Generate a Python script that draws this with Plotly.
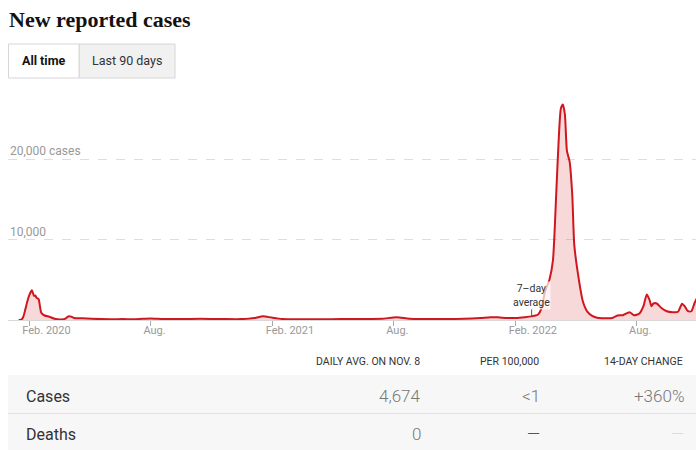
import plotly.graph_objects as go

# ---- data ----
dates = [
    "2020-01-16", "2020-01-20", "2020-01-23", "2020-01-26", "2020-01-29", "2020-02-01",
    "2020-02-05", "2020-02-08", "2020-02-10", "2020-02-12", "2020-02-15", "2020-02-17",
    "2020-02-19", "2020-02-24", "2020-03-02", "2020-03-10", "2020-03-20", "2020-03-27",
    "2020-03-31", "2020-04-04", "2020-04-08", "2020-04-20", "2020-05-05", "2020-06-01",
    "2020-06-20", "2020-07-10", "2020-08-01", "2020-08-20", "2020-09-15", "2020-10-15",
    "2020-11-15", "2020-12-15", "2021-01-05", "2021-01-17", "2021-01-30", "2021-02-15",
    "2021-03-15", "2021-04-15", "2021-05-15", "2021-06-15", "2021-07-15", "2021-08-06",
    "2021-08-25", "2021-09-20", "2021-10-20", "2021-11-15", "2021-12-10", "2021-12-25",
    "2022-01-05", "2022-01-20", "2022-02-01", "2022-02-15", "2022-02-25", "2022-03-03",
    "2022-03-07", "2022-03-12", "2022-03-17", "2022-03-24", "2022-03-29", "2022-04-03",
    "2022-04-07", "2022-04-10", "2022-04-13", "2022-04-16", "2022-04-19", "2022-04-23",
    "2022-04-27", "2022-04-30", "2022-05-05", "2022-05-13", "2022-05-20", "2022-05-27",
    "2022-06-02", "2022-06-11", "2022-06-26", "2022-07-04", "2022-07-12", "2022-07-22",
    "2022-07-29", "2022-08-06", "2022-08-12", "2022-08-17", "2022-08-21", "2022-08-24",
    "2022-08-27", "2022-09-01", "2022-09-08", "2022-09-16", "2022-09-25", "2022-10-03",
    "2022-10-09", "2022-10-13", "2022-10-18", "2022-10-23", "2022-10-28", "2022-11-02",
    "2022-11-08",
]
cases = [
    0, 40, 400, 1300, 2300, 3100,
    3700, 3000, 3050, 2750, 2600, 1700,
    900, 560, 400, 150, 70, 200,
    470, 420, 260, 220, 150, 90,
    110, 100, 200, 130, 110, 140,
    120, 110, 250, 470, 300, 120,
    90, 100, 110, 130, 150, 330,
    160, 130, 120, 150, 250, 350,
    330, 250, 250, 350, 450, 550,
    700, 1500, 3500, 5100, 7400, 15800,
    23000, 26300, 26770, 25500, 21000, 19700,
    15600, 9400, 6060, 2300, 1000, 500,
    300, 220, 250, 560, 600, 970,
    600, 800, 1710, 3170, 2540, 1710,
    2050, 2050, 1500, 1090, 970, 1020,
    2010, 1710, 1090, 1090, 2140, 3000,
    4674,
]

tick_dates = ["2020-02-01", "2020-08-01", "2021-02-01", "2021-08-01", "2022-02-01", "2022-08-01"]
tick_labels = ["Feb. 2020", "Aug.", "Feb. 2021", "Aug.", "Feb. 2022", "Aug."]
grid_values = [10000, 20000]
grid_labels = ["10,000", "20,000 cases"]

table_headers = ["DAILY AVG. ON NOV. 8", "PER 100,000", "14-DAY CHANGE"]
row_names = ["Cases", "Deaths"]
cases_row = ["4,674", "<1", "+360%"]
deaths_row = ["0", "—", "—"]

# ---- layout helpers (screen pixel -> paper) ----
W, H = 696, 450
ML, MR, MT, MB = 8, 0, 95, 130
PW, PH = W - ML - MR, H - MT - MB


def PX(px):
    return (px - ML) / PW


def PY(py):
    return (H - MB - py) / PH


RED = "#d0161f"
font_ui = "Roboto, Liberation Sans, sans-serif"

fig = go.Figure()
fig.add_trace(go.Scatter(
    x=dates, y=cases, mode="lines",
    line=dict(color=RED, width=2, shape="spline", smoothing=0.6),
    fill="tozeroy", fillcolor="rgba(214,30,30,0.17)",
    hoverinfo="skip", showlegend=False,
))

shapes = []
annotations = []

# title
annotations.append(dict(text="<b>New reported cases</b>", x=PX(7), y=PY(19), xref="paper", yref="paper",
                        xanchor="left", yanchor="middle", showarrow=False,
                        font=dict(family="Liberation Serif, DejaVu Serif, serif", size=22, color="#121212")))

# toggle buttons
shapes.append(dict(type="rect", xref="paper", yref="paper", x0=PX(79), x1=PX(175), y0=PY(78), y1=PY(44),
                   fillcolor="#f1f1f1", line=dict(color="#d6d6d6", width=1), layer="above"))
shapes.append(dict(type="rect", xref="paper", yref="paper", x0=PX(8.5), x1=PX(79), y0=PY(78), y1=PY(44),
                   fillcolor="#ffffff", line=dict(color="#d6d6d6", width=1), layer="above"))
annotations.append(dict(text="<b>All time</b>", x=PX(43.5), y=PY(61), xref="paper", yref="paper",
                        xanchor="center", yanchor="middle", showarrow=False,
                        font=dict(family=font_ui, size=12.5, color="#121212")))
annotations.append(dict(text="Last 90 days", x=PX(127), y=PY(61), xref="paper", yref="paper",
                        xanchor="center", yanchor="middle", showarrow=False,
                        font=dict(family=font_ui, size=12.5, color="#333333")))

# grid labels
for v, lab in zip(grid_values, grid_labels):
    annotations.append(dict(text=lab, x=0, y=v, xref="paper", yref="y", xanchor="left", yanchor="bottom",
                            yshift=-1, showarrow=False, font=dict(family=font_ui, size=12, color="#999999")))

# 7-day average label
shapes.append(dict(type="line", xref="x", yref="y", x0="2022-02-25", x1="2022-02-25", y0=500, y1=1370,
                   line=dict(color="#555555", width=1)))
annotations.append(dict(text="7–day<br>average", x="2022-02-25", y=PY(295.5), xref="x", yref="paper",
                        xanchor="center", yanchor="middle", showarrow=False, bgcolor="rgba(255,255,255,0.7)",
                        borderpad=0, font=dict(family=font_ui, size=10.5, color="#333333")))

# table
shapes.append(dict(type="rect", xref="paper", yref="paper", x0=PX(8), x1=PX(700), y0=PY(460), y1=PY(375),
                   fillcolor="#f7f7f7", line=dict(width=0), layer="below"))
shapes.append(dict(type="line", xref="paper", yref="paper", x0=PX(8), x1=PX(700), y0=PY(413.5), y1=PY(413.5),
                   line=dict(color="#e2e2e2", width=1.2)))
col_right = [421, 540, 684]
for hx, htxt in zip(col_right, table_headers):
    annotations.append(dict(text=htxt, x=PX(hx + 1), y=PY(361), xref="paper", yref="paper", xanchor="right",
                            yanchor="middle", showarrow=False, font=dict(family=font_ui, size=10.5, color="#333333")))
row_y = [396, 434]
for ry, name in zip(row_y, row_names):
    annotations.append(dict(text=name, x=PX(24), y=PY(ry), xref="paper", yref="paper", xanchor="left",
                            yanchor="middle", showarrow=False, font=dict(family=font_ui, size=16, color="#333333")))
row_colors = [["#777777", "#777777", "#777777"], ["#777777", "#555555", "#dddddd"]]
for ry, vals, cols in zip(row_y, [cases_row, deaths_row], row_colors):
    for hx, val, c in zip(col_right, vals, cols):
        annotations.append(dict(text=val, x=PX(hx + 2), y=PY(ry), xref="paper", yref="paper", xanchor="right",
                                yanchor="middle", showarrow=False,
                                font=dict(family=font_ui, size=17, color=c, weight=300)))

fig.update_layout(
    width=W, height=H,
    margin=dict(l=ML, r=MR, t=MT, b=MB, pad=0),
    paper_bgcolor="white", plot_bgcolor="white",
    shapes=shapes, annotations=annotations,
    xaxis=dict(type="date", range=["2019-12-31", "2022-10-30"], tickvals=tick_dates, ticktext=tick_labels,
               ticks="outside", ticklen=5, tickcolor="#aaaaaa", tickwidth=1,
               ticklabelposition="outside right", ticklabelshift=-8,
               showgrid=False, showline=True, linecolor="#d8d8d8", linewidth=1, zeroline=False,
               tickfont=dict(family=font_ui, size=11, color="#999999"), fixedrange=True),
    yaxis=dict(range=[0, 27950], tickvals=grid_values, showticklabels=False, showgrid=True,
               gridcolor="#dedede", griddash="dash", gridwidth=1, zeroline=False, showline=False,
               fixedrange=True),
)

fig.write_html("out.html", config={"displayModeBar": False},
               post_script="document.body.style.margin='0';document.body.style.overflow='hidden';")
